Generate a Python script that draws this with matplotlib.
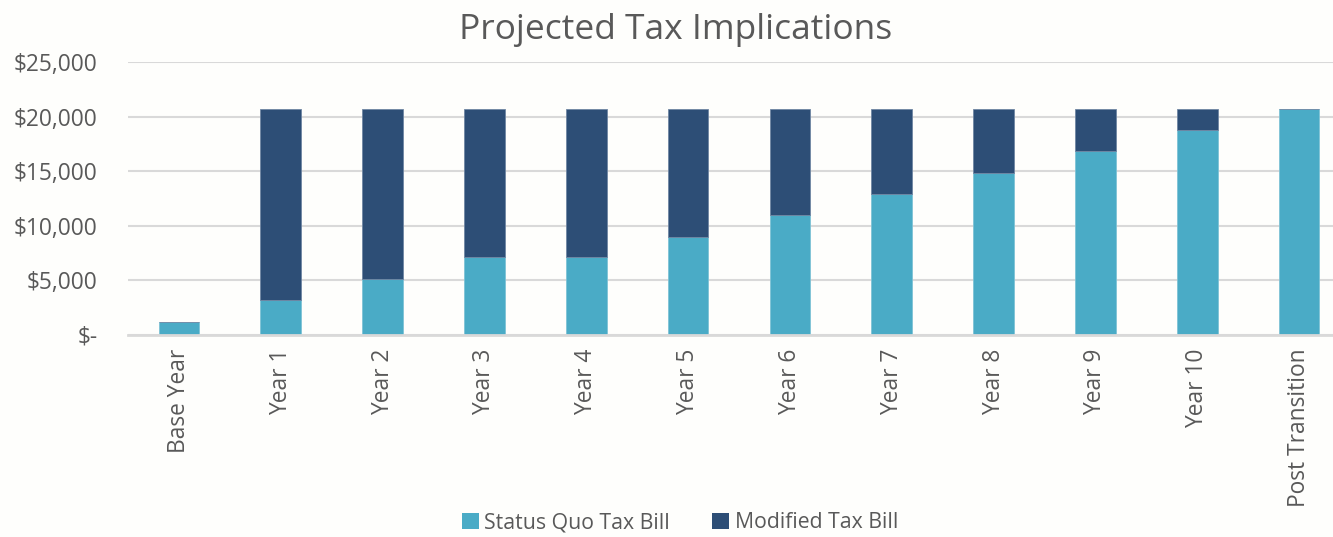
import matplotlib
matplotlib.use("Agg")
import matplotlib.pyplot as plt
from matplotlib.ticker import FuncFormatter, MultipleLocator
from matplotlib.patches import Patch

categories = ["Base Year", "Year 1", "Year 2", "Year 3", "Year 4", "Year 5",
              "Year 6", "Year 7", "Year 8", "Year 9", "Year 10", "Post Transition"]
status_quo = [1200, 3200, 5100, 7100, 7100, 9000, 11000, 12900, 14800, 16800, 18750, 20700]
modified = [0, 17500, 15600, 13600, 13600, 11700, 9700, 7800, 5900, 3900, 1950, 0]

c_sq = "#4aabc6"
c_mod = "#2d4e76"
txt = "#595959"
bg = "#fefefc"

plt.rcParams["font.family"] = ["Open Sans", "DejaVu Sans"]

fig = plt.figure(figsize=(13.33, 5.37), dpi=100, facecolor=bg)
ax = fig.add_axes([128 / 1333, 1 - 334.7 / 537, 1222 / 1333, (334.7 - 62) / 537])
ax.set_facecolor(bg)

x = range(len(categories))
ax.bar(x, status_quo, width=0.4, color=c_sq, edgecolor="#7fc3d6", linewidth=0.6, zorder=3)
ax.bar(x, modified, width=0.4, bottom=status_quo, color=c_mod, edgecolor="#6f86a3",
       linewidth=0.6, zorder=3)

ax.set_xlim(-0.5, len(categories) - 0.5)
ax.set_ylim(0, 25000)
ax.yaxis.set_major_locator(MultipleLocator(5000))
ax.yaxis.set_major_formatter(FuncFormatter(lambda v, p: "$-" if v == 0 else f"${v:,.0f}"))
ax.grid(axis="y", color="#d9d9d9", linewidth=1.5, zorder=0)
for s in ["top", "right", "left"]:
    ax.spines[s].set_visible(False)
ax.spines["bottom"].set_color("#d9d9d9")
ax.spines["bottom"].set_linewidth(2)
ax.spines["bottom"].set_zorder(4)

ax.set_xticks(list(x))
ax.set_xticklabels(categories, rotation=90, fontsize=16.4, color=txt)
ax.tick_params(axis="x", length=0, pad=10)
ax.tick_params(axis="y", length=0, pad=22, labelsize=16.4, labelcolor=txt)

fig.text(676 / 1333, 1 - 30 / 537, "Projected Tax Implications", ha="center", va="center",
         fontsize=25.5, color=txt)

handles = [Patch(facecolor=c_sq, label="Status Quo Tax Bill"),
           Patch(facecolor=c_mod, label="Modified Tax Bill")]
fig.legend(handles=handles, loc="center", bbox_to_anchor=(680 / 1333, 1 - 523 / 537),
           ncol=2, frameon=False, fontsize=15.3, labelcolor=txt, handlelength=0.8,
           handleheight=0.8, handletextpad=0.25, columnspacing=2.0, borderaxespad=0)

fig.savefig("out.png", dpi=100, facecolor=bg)
